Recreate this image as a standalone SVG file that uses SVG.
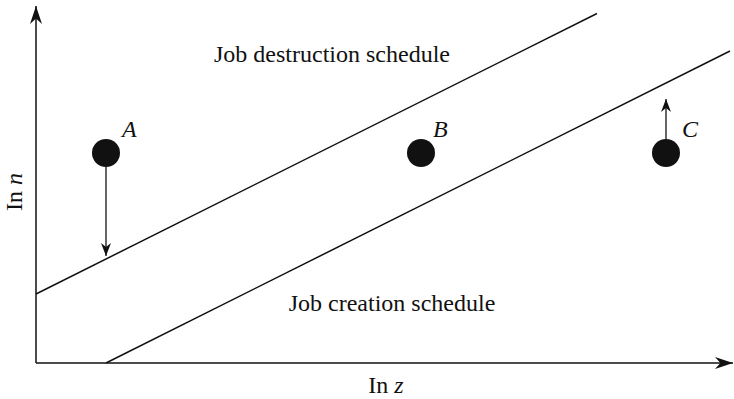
<svg xmlns="http://www.w3.org/2000/svg" width="734" height="399" viewBox="0 0 734 399">
<style>
.t{font-family:"Liberation Serif","Times New Roman",serif;font-size:24px;fill:#111}
.i{font-style:italic}
.ln{stroke:#111;stroke-width:1.5;fill:none}
.ar{stroke:#333;stroke-width:1.5;fill:none}
.dot{fill:#111}
</style>
<defs>
<marker id="ah" viewBox="0 0 10 10" refX="10" refY="5" markerWidth="13" markerHeight="10" markerUnits="userSpaceOnUse" orient="auto" preserveAspectRatio="none">
<path d="M0,0 L10,5 L0,10 L3,5 Z" fill="#111"/>
</marker>
<marker id="axh" viewBox="0 0 10 10" refX="10" refY="5" markerWidth="18" markerHeight="12" markerUnits="userSpaceOnUse" orient="auto" preserveAspectRatio="none">
<path d="M0,0 L10,5 L0,10 L3,5 Z" fill="#111"/>
</marker>
</defs>
<g id="axes">
<line class="ln" x1="36" y1="363" x2="36" y2="6" marker-end="url(#axh)"/>
<line class="ln" x1="36" y1="363" x2="733" y2="363" marker-end="url(#axh)"/>
<text class="t" transform="translate(22,192) rotate(-90)" text-anchor="middle">In <tspan class="i">n</tspan></text>
<text class="t" x="386" y="393" text-anchor="middle">In <tspan class="i">z</tspan></text>
</g>
<g id="destruction">
<line class="ln" x1="36" y1="294" x2="597" y2="13.5"/>
<text class="t" x="332" y="62" text-anchor="middle">Job destruction schedule</text>
</g>
<g id="creation">
<line class="ln" x1="106" y1="363" x2="730" y2="51"/>
<text class="t" x="392" y="311" text-anchor="middle">Job creation schedule</text>
</g>
<g id="A">
<circle class="dot" cx="106" cy="153" r="14"/>
<text class="t i" x="122" y="137">A</text>
</g>
<g id="B">
<circle class="dot" cx="421" cy="153" r="14"/>
<text class="t i" x="433" y="137">B</text>
</g>
<g id="C">
<circle class="dot" cx="666" cy="153" r="14"/>
<text class="t i" x="682" y="137">C</text>
</g>
<g id="connectors">
<line class="ar" x1="106" y1="167" x2="106" y2="256" marker-end="url(#ah)"/>
<line class="ar" x1="666" y1="139" x2="666" y2="99" marker-end="url(#ah)"/>
</g>
</svg>
